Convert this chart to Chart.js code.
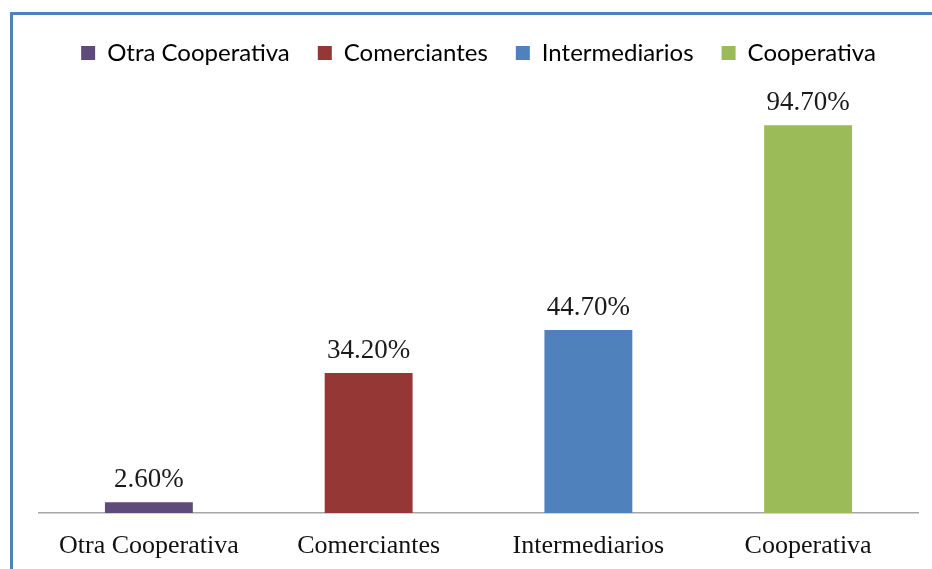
<!DOCTYPE html>
<html>
<head>
<meta charset="utf-8">
<script src="https://cdn.jsdelivr.net/npm/chart.js@4/dist/chart.umd.min.js"></script>
<style>
  html, body { margin: 0; padding: 0; background: #fff; }
  #wrap { position: relative; width: 932px; height: 569px; overflow: hidden; }
  #frame {
    position: absolute; left: 10px; top: 12px; width: 940px; height: 580px;
    border-left: 3px solid #4F81BD; border-top: 3px solid #4F81BD;
  }
  canvas { position: absolute; left: 0; top: 0; }
</style>
</head>
<body>
<div id="wrap">
  <div id="frame"></div>
  <canvas id="barChart" width="932" height="569"></canvas>
</div>
<script>
// data
const categories = ['Otra Cooperativa', 'Comerciantes', 'Intermediarios', 'Cooperativa'];
const values = [2.6, 34.2, 44.7, 94.7];
const colors = ['#604A7B', '#953735', '#4F81BD', '#9BBB59'];

// value labels above the bars
const valueLabels = {
    id: 'valueLabels',
    afterDatasetsDraw(chart) {
        const c = chart.ctx;
        const meta = chart.getDatasetMeta(0);
        c.save();
        c.font = '27px "Liberation Serif", "Times New Roman", serif';
        c.fillStyle = '#1a1a1a';
        c.textAlign = 'center';
        c.textBaseline = 'alphabetic';
        meta.data.forEach((bar, i) => {
            c.fillText(values[i].toFixed(2) + '%', bar.x, bar.y - 15);
        });
        c.restore();
    }
};

const ctx = document.getElementById('barChart').getContext('2d');

const myChart = new Chart(ctx, {
    type: 'bar',
    data: {
        labels: categories,
        datasets: [{
            label: 'Porcentaje',
            data: values,
            backgroundColor: colors,
            borderWidth: 0,
            categoryPercentage: 0.4,
            barPercentage: 1
        }]
    },
    options: {
        responsive: false,
        animation: false,
        layout: { padding: { left: 39, right: 14, top: 13, bottom: 0 } },
        plugins: {
            tooltip: { enabled: false },
            legend: {
                position: 'top',
                labels: {
                    font: { family: 'Lato, "Open Sans", sans-serif', size: 24 },
                    color: '#222',
                    boxWidth: 14,
                    boxHeight: 14,
                    padding: 28,
                    generateLabels: () => categories.map((name, i) => ({
                        text: name,
                        fillStyle: colors[i],
                        strokeStyle: colors[i],
                        lineWidth: 0,
                        hidden: false,
                        index: i
                    }))
                },
                onClick: () => {}
            }
        },
        scales: {
            x: {
                grid: { display: false },
                border: { display: true, color: '#A6A6A6', width: 1.5 },
                ticks: {
                    color: '#111',
                    padding: 10,
                    font: { family: '"Liberation Serif", "Times New Roman", serif', size: 26 }
                },
                afterFit: (scale) => { scale.height = 56; }
            },
            y: {
                display: false,
                min: 0,
                max: 107
            }
        }
    },
    plugins: [valueLabels]
});
</script>
</body>
</html>
